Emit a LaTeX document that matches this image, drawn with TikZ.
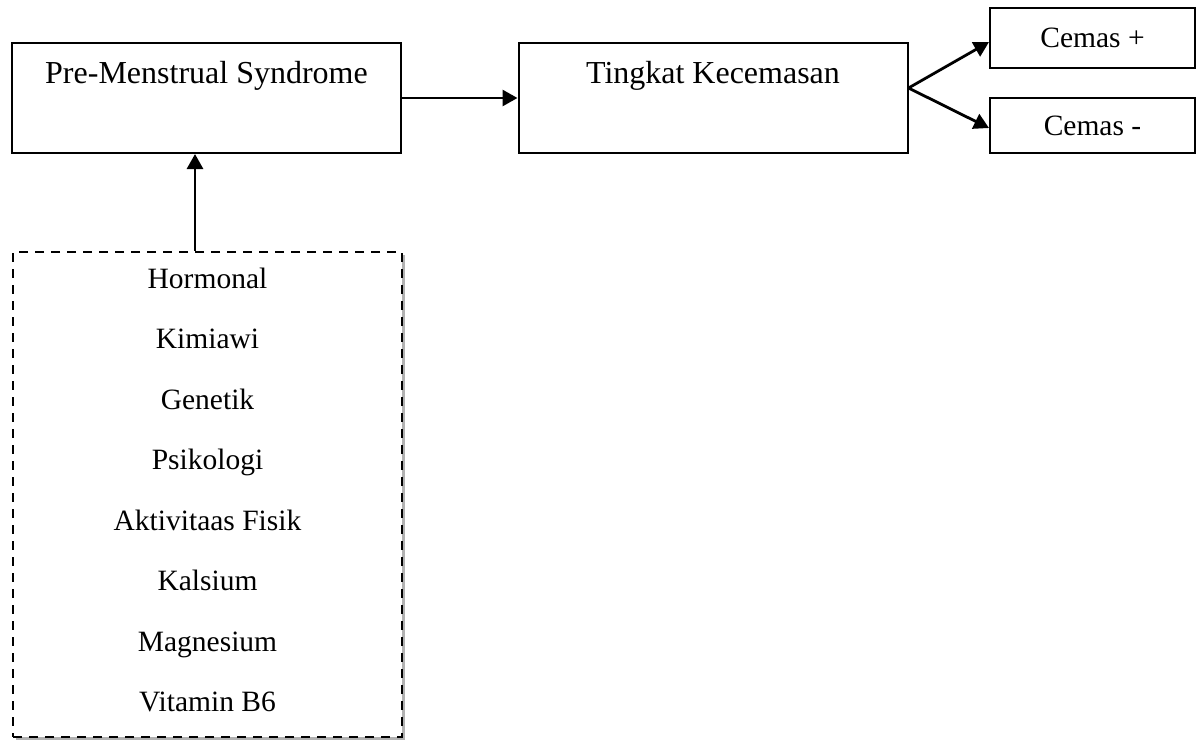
\documentclass[tikz,border=0pt]{standalone}
\usepackage{fontspec}
\setmainfont{Liberation Serif}
\usetikzlibrary{arrows.meta,positioning,shadows}

\begin{document}
\begin{tikzpicture}[
  x=1pt,y=-1pt,
  every node/.style={font=\fontsize{32}{38}\selectfont},
  bigbox/.style={draw,line width=2pt,inner sep=0pt,minimum width=389pt,
                 text height=40pt,text depth=70pt},
  smallbox/.style={draw,line width=2pt,minimum width=205pt,
                   font=\fontsize{29.5}{35}\selectfont},
  facbox/.style={draw,dash pattern=on 9pt off 7pt,line width=2.8pt,fill=white,
                 minimum width=389pt,minimum height=485pt,
                 drop shadow={shadow xshift=2.5pt,shadow yshift=-2.5pt,fill=black!30,opacity=1}},
  fac/.style={anchor=base,font=\fontsize{29.5}{35}\selectfont},
  arr/.style={-{Triangle[length=15pt,width=16pt]},line width=2.8pt}
]
\useasboundingbox (0,0) rectangle (1202,739);
% Main boxes
\node[bigbox] (pms) at (206.5,98) {Pre-Menstrual Syndrome};
\node[bigbox] (tk)  at (713,98)   {Tingkat Kecemasan};
\node[smallbox,minimum height=60pt] (plus)  at (1092.5,38)    {Cemas +};
\node[smallbox,minimum height=55pt] (minus) at (1092.5,125.5) {Cemas -};
% Factor box
\node[facbox] (facs) at (207.5,494.5) {};
\foreach \t [count=\i from 0] in {Hormonal,Kimiawi,Genetik,Psikologi,
    Aktivitaas Fisik,Kalsium,Magnesium,Vitamin B6}
  \node[fac] (f\i) at (207.5,288+60.57*\i) {\t};
% Connectors
\draw[arr] ([xshift=-12.5pt]facs.north) -- ([xshift=-12.5pt]facs.north |- pms.south);
\draw[arr] (pms.east) -- (tk.west);
\coordinate (fork) at ([yshift=10pt]tk.east);
\draw[arr] (fork) -- ([yshift=-4pt]plus.west);
\draw[arr] (fork) -- ([yshift=-2.5pt]minus.west);
\end{tikzpicture}
\end{document}
